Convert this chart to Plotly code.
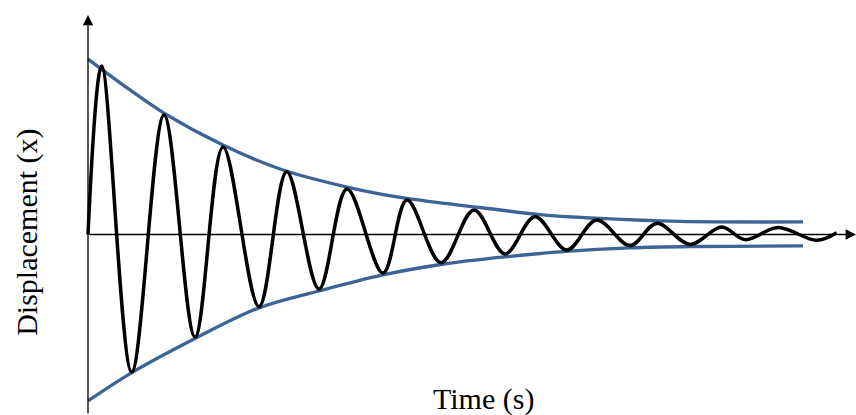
import plotly.graph_objects as go

# Damped oscillation: start point, successive peaks/troughs, end point
time_s = [0.000, 0.223, 0.711, 1.236, 1.740, 2.195, 2.780, 3.231, 3.756, 4.211,
          4.797, 5.187, 5.740, 6.276, 6.780, 7.268, 7.784, 8.271, 8.813, 9.247,
          9.789, 10.304, 10.683, 11.220, 11.849, 12.174]
displacement = [0.000, 0.955, -0.779, 0.677, -0.581, 0.496, -0.409, 0.356, -0.309, 0.258,
                -0.218, 0.195, -0.160, 0.139, -0.110, 0.101, -0.088, 0.082, -0.063, 0.063,
                -0.056, 0.042, -0.029, 0.039, -0.033, 0.010]

# Decay envelope (upper and lower)
env_upper_t = [0.000, 0.683, 1.236, 2.195, 3.122, 4.211, 5.187, 6.374, 7.350, 8.325, 9.626, 11.626]
env_upper_x = [0.994, 0.819, 0.688, 0.507, 0.371, 0.269, 0.204, 0.153, 0.113, 0.091, 0.074, 0.071]
env_lower_t = [0.000, 0.699, 1.740, 2.780, 3.756, 4.797, 5.740, 6.780, 7.772, 8.813, 9.789, 11.626]
env_lower_x = [-0.943, -0.785, -0.589, -0.416, -0.320, -0.229, -0.170, -0.127, -0.096, -0.076, -0.068, -0.065]

x_label = "Time (s)"
y_label = "Displacement (x)"

X_RANGE = [-1.431, 12.488]
Y_RANGE = [-1.0227, 1.3286]

ENV_COLOR = "#3d6497"
FONT = "Liberation Serif, Times New Roman, serif"

fig = go.Figure()

fig.add_trace(go.Scatter(x=env_upper_t, y=env_upper_x, mode="lines",
                         line=dict(color=ENV_COLOR, width=3.3, shape="spline", smoothing=1.0),
                         hoverinfo="skip"))
fig.add_trace(go.Scatter(x=env_lower_t, y=env_lower_x, mode="lines",
                         line=dict(color=ENV_COLOR, width=3.3, shape="spline", smoothing=1.0),
                         hoverinfo="skip"))
fig.add_trace(go.Scatter(x=time_s, y=displacement, mode="lines",
                         line=dict(color="black", width=3.5, shape="spline", smoothing=1.0),
                         hoverinfo="skip"))

# Axis arrows
fig.add_annotation(x=X_RANGE[1], y=0, ax=0, ay=0, xref="x", yref="y", axref="x", ayref="y",
                   showarrow=True, arrowhead=2, arrowsize=1.6, arrowwidth=1.3,
                   arrowcolor="black", standoff=0, startstandoff=0, text="")
fig.add_annotation(x=0, y=1.244, ax=0, ay=Y_RANGE[0], xref="x", yref="y", axref="x", ayref="y",
                   showarrow=True, arrowhead=2, arrowsize=1.6, arrowwidth=1.3,
                   arrowcolor="black", standoff=0, startstandoff=0, text="")

# Axis titles
fig.add_annotation(x=6.431, y=-0.93, xref="x", yref="y", text=x_label, showarrow=False,
                   font=dict(family=FONT, size=30, color="black"),
                   xanchor="center", yanchor="middle")
fig.add_annotation(x=-0.99, y=0.01, xref="x", yref="y", text=y_label, showarrow=False,
                   textangle=-90, font=dict(family=FONT, size=30, color="black"),
                   xanchor="center", yanchor="middle")

fig.update_layout(
    width=856, height=415,
    margin=dict(l=0, r=0, t=0, b=0),
    paper_bgcolor="white", plot_bgcolor="white",
    showlegend=False,
    xaxis=dict(range=X_RANGE, visible=False, fixedrange=True),
    yaxis=dict(range=Y_RANGE, visible=False, fixedrange=True),
)

fig.write_html("out.html")
